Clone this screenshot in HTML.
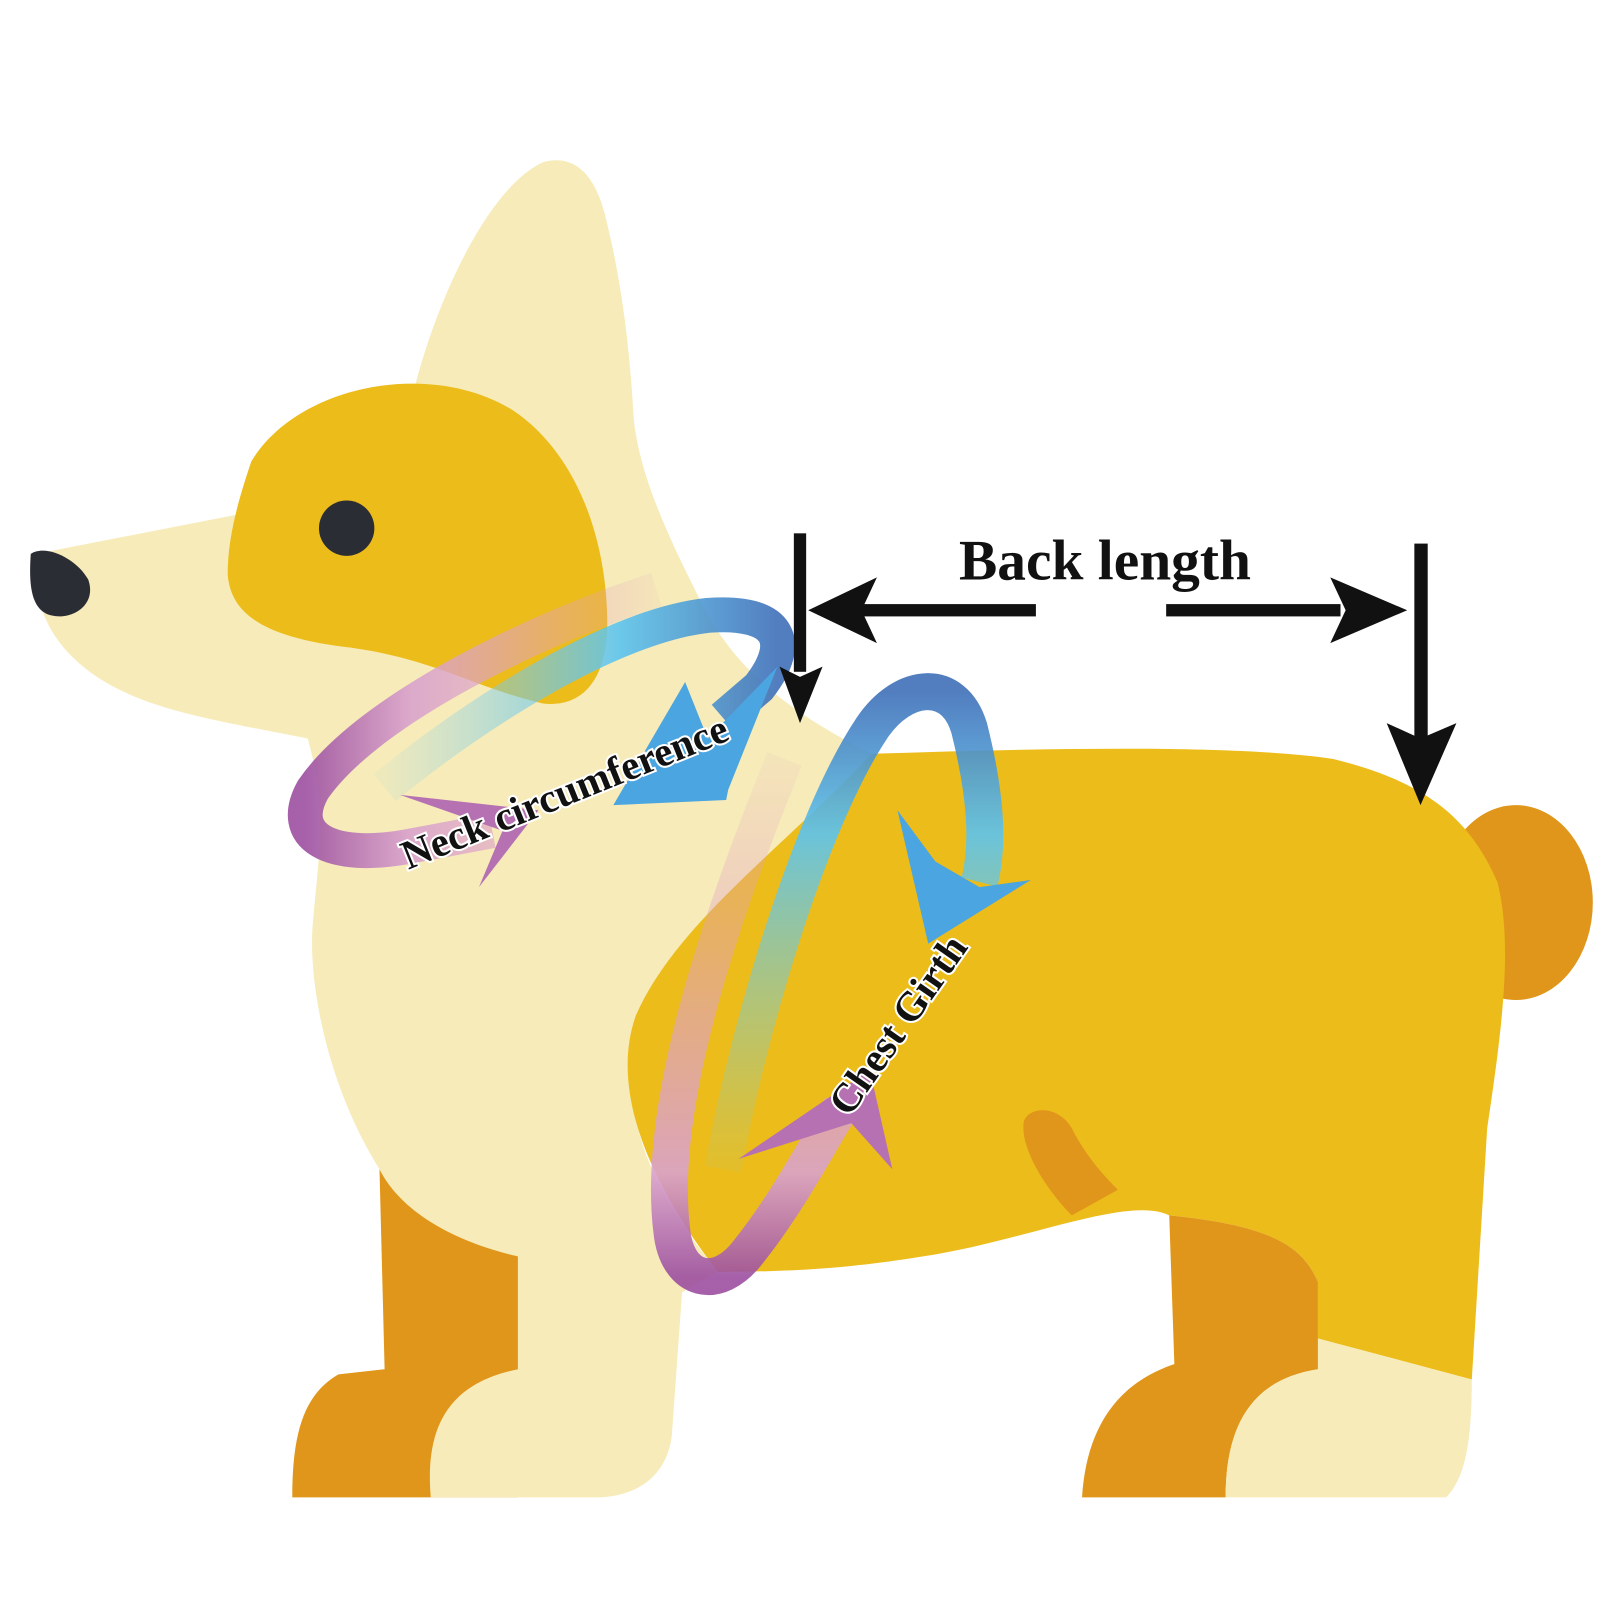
<!DOCTYPE html>
<html><head><meta charset="utf-8"><style>html,body{margin:0;padding:0;background:#fff}svg{display:block}</style></head>
<body>
<svg width="1600" height="1600" viewBox="0 0 1560 1560" xmlns="http://www.w3.org/2000/svg">
<defs>
<linearGradient id="gb" x1="0" y1="0" x2="1" y2="0"><stop offset="0" stop-color="#8fd3e8" stop-opacity="0.1"/><stop offset="0.6" stop-color="#5cc4ef"/><stop offset="1" stop-color="#3f6fb8"/></linearGradient>
<linearGradient id="gp" x1="1" y1="0" x2="0" y2="0"><stop offset="0" stop-color="#e6a0c0" stop-opacity="0.1"/><stop offset="0.7" stop-color="#d9a2cd"/><stop offset="1" stop-color="#9c4fa0"/></linearGradient>
<linearGradient id="gb2" x1="0" y1="1" x2="0" y2="0"><stop offset="0" stop-color="#8fd3c0" stop-opacity="0.1"/><stop offset="0.7" stop-color="#5cc4ef"/><stop offset="1" stop-color="#3f6fb8"/></linearGradient>
<linearGradient id="gp2" x1="0" y1="0" x2="0" y2="1"><stop offset="0" stop-color="#e6a0c0" stop-opacity="0.1"/><stop offset="0.8" stop-color="#d9a2cd"/><stop offset="1" stop-color="#9c4fa0"/></linearGradient>
</defs>
<path d="M370,1140 L375,1335 L330,1340 C295,1360 285,1400 285,1460 L505,1460 L505,1225 Z" fill="#E0961A"/>
<ellipse cx="1478" cy="880" rx="75" ry="95" fill="#E0961A"/>
<path d="M405,375 C430,280 480,180 530,158 C560,150 580,170 590,210 C610,290 615,360 618,410 C625,470 655,530 690,600 L560,600 Z" fill="#F6EBB9"/>
<path d="M35,540 L240,500 C300,420 420,380 600,420 L690,600 C720,650 760,690 850,735 L640,990 C600,1050 610,1130 700,1240 L665,1260 L655,1400 C650,1440 620,1460 580,1460 L420,1460 C415,1400 430,1350 505,1335 L505,1225 C440,1210 390,1180 370,1140 C320,1060 300,960 305,900 C310,840 320,790 300,720 C200,700 120,690 70,640 C40,610 32,575 35,540 Z" fill="#F6EBB9"/>
<path d="M245,450 C290,375 420,350 500,400 C560,440 590,520 592,600 C594,660 570,690 530,686 C460,670 420,640 330,630 C260,620 225,600 222,560 C222,520 235,480 245,450 Z" fill="#ECBC1B"/>
<circle cx="338" cy="515" r="27" fill="#2B2D35"/>
<path d="M30,540 C45,530 75,545 86,565 C95,590 70,605 50,600 C30,595 28,570 30,540 Z" fill="#2B2D35"/>
<path d="M850,735 C1000,730 1200,725 1300,740 C1380,760 1430,790 1460,860 C1475,920 1465,1000 1450,1100 L1435,1345 L1285,1305 L1285,1250 C1270,1215 1240,1195 1140,1185 C1100,1165 1000,1210 900,1225 C820,1238 760,1240 700,1240 C630,1150 595,1060 620,990 C660,900 760,830 850,735 Z" fill="#ECBC1B"/>
<path d="M1140,1185 L1145,1330 C1100,1345 1060,1380 1055,1460 L1195,1460 C1195,1390 1220,1345 1285,1335 L1285,1250 C1270,1215 1240,1195 1140,1185 Z" fill="#E0961A"/>
<path d="M1195,1460 L1410,1460 C1430,1440 1435,1400 1435,1345 L1285,1305 L1285,1335 C1220,1345 1195,1390 1195,1460 Z" fill="#F6EBB9"/>
<path d="M998,1095 C1000,1080 1030,1075 1045,1100 C1060,1130 1080,1150 1090,1160 L1045,1185 C1020,1160 995,1120 998,1095 Z" fill="#E0961A"/>
<path d="M375,768 C470,690 600,610 690,600 C760,595 775,625 740,670 L705,700" fill="none" stroke="url(#gb)" stroke-width="34" opacity="0.9"/>
<polygon points="598,785 668,665 690,720 758,650 710,770 708,780" fill="#4aa5e0"/>
<path d="M640,575 C530,610 360,690 305,770 C280,815 320,840 400,825 L480,810" fill="none" stroke="url(#gp)" stroke-width="34" opacity="0.9"/>
<polygon points="390,775 525,790 467,865 490,810" fill="#b671b3"/>
<path d="M705,1140 C730,1000 790,800 850,710 C880,665 930,660 945,710 C960,770 965,820 955,860" fill="none" stroke="url(#gb2)" stroke-width="36" opacity="0.9"/>
<polygon points="875,790 912,840 955,865 1005,858 905,920" fill="#4aa5e0"/>
<path d="M765,740 C700,900 640,1080 655,1200 C660,1250 700,1260 730,1220 C770,1170 800,1110 820,1080" fill="none" stroke="url(#gp2)" stroke-width="36" opacity="0.9"/>
<polygon points="720,1130 848,1043 870,1140 830,1095" fill="#b671b3"/>
<g fill="#111">
<rect x="774" y="520" width="12" height="135"/>
<polygon points="760,650 780,705 802,650 780,660"/>
<rect x="840" y="589" width="170" height="12"/>
<polygon points="788,595 855,563 840,595 855,627"/>
<rect x="1137" y="589" width="170" height="12"/>
<polygon points="1372,595 1297,563 1312,595 1297,627"/>
<rect x="1379" y="530" width="13" height="195"/>
<polygon points="1352,705 1385,785 1420,705 1385,720"/>
</g>
<text x="935" y="565" font-family="Liberation Serif, serif" font-weight="bold" font-size="56" fill="#111">Back length</text>
<g font-family="Liberation Serif, serif" font-weight="bold" font-size="40" fill="#111" stroke="#fff" stroke-width="4" paint-order="stroke">
<text transform="translate(398,848) rotate(-22)">Neck circumference</text>
<text transform="translate(828,1090) rotate(-55)">Chest Girth</text>
</g>
</svg>
</body></html>
